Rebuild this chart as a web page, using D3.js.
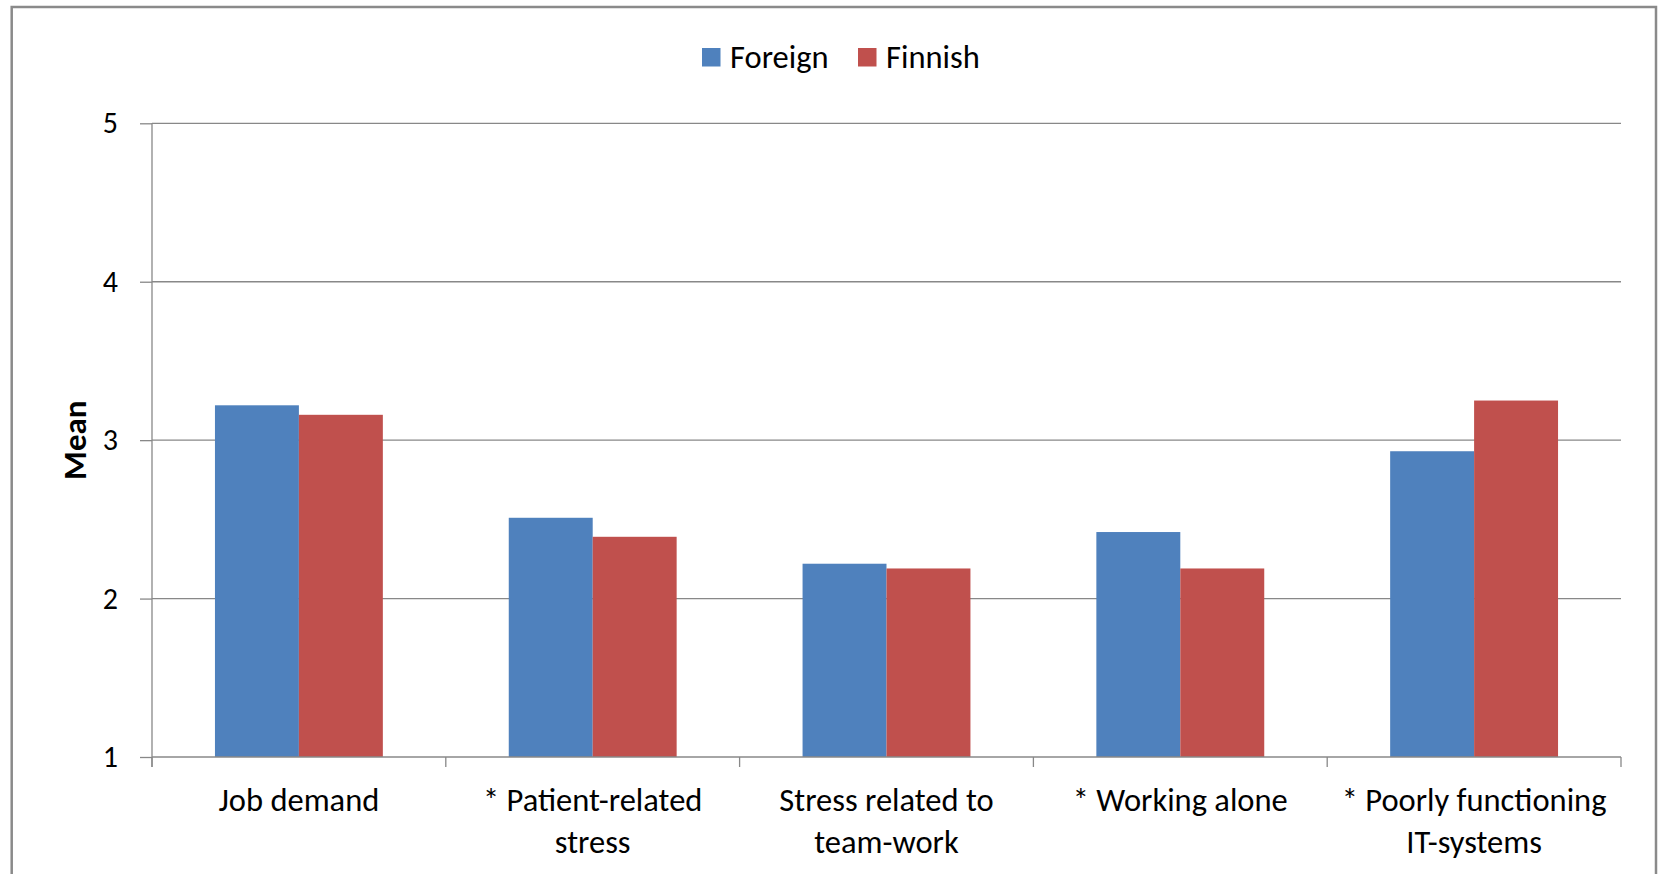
<!DOCTYPE html>
<html>
<head>
<meta charset="utf-8">
<script src="https://cdn.jsdelivr.net/npm/d3@7"></script>
<style>
  body { margin: 0; background: #fff; }
  svg { display: block; font-family: Carlito, Calibri, Lato, sans-serif; }
</style>
</head>
<body>
<svg id="chart" width="1658" height="874"></svg>
<script>
// data
const categories = ['Job demand', '* Patient-related\nstress', 'Stress related to\nteam-work', '* Working alone', '* Poorly functioning\nIT-systems'];
const series_names = ['Foreign', 'Finnish'];
const foreign_values = [3.22, 2.51, 2.22, 2.42, 2.93];
const finnish_values = [3.16, 2.39, 2.19, 2.19, 3.25];
const y_ticks = [1, 2, 3, 4, 5];

const colors = { 'Foreign': '#4f81bd', 'Finnish': '#c0504d' };
const grid_color = '#888888';
const font_size = 32.5;
const tick_font_size = 30;

// chart parameters
const plot_left = 152, plot_right = 1621, plot_top = 123.3, plot_bottom = 757;

let svg = d3.select('#chart');

let rows = categories.map((c, i) => ({ cat: c, Foreign: foreign_values[i], Finnish: finnish_values[i] }));

// outer frame
svg.append('rect')
    .attr('x', 11.7).attr('y', 7)
    .attr('width', 1644.3).attr('height', 900)
    .attr('fill', 'none')
    .attr('stroke', '#8a8a8a')
    .attr('stroke-width', 2.5);

// scales
let x0 = d3.scaleBand().domain(categories).range([plot_left, plot_right]).padding(0);
let x1 = d3.scaleBand().domain(series_names).range([0, x0.bandwidth()])
    .paddingInner(0).paddingOuter(0.75);
let y = d3.scaleLinear().domain([1, 5]).range([plot_bottom, plot_top]);

// gridlines
svg.append('g')
    .selectAll('line')
    .data(y_ticks.filter(d => d > 1))
    .enter()
    .append('line')
    .attr('x1', plot_left).attr('x2', plot_right)
    .attr('y1', d => y(d)).attr('y2', d => y(d))
    .attr('stroke', grid_color).attr('stroke-width', 1.3);

// bars
svg.append('g')
    .selectAll('g')
    .data(rows)
    .enter()
        .append('g')
        .attr('transform', d => `translate(${x0(d.cat)},0)`)
        .selectAll('rect')
        .data(d => series_names.map(s => ({ key: s, value: d[s] })))
        .enter()
            .append('rect')
            .attr('x', d => x1(d.key))
            .attr('y', d => y(d.value))
            .attr('width', x1.bandwidth())
            .attr('height', d => y(1) - y(d.value))
            .attr('fill', d => colors[d.key]);

// y axis
let y_axis = d3.axisLeft(y).tickValues(y_ticks).tickFormat(d3.format('d'))
    .tickSizeInner(12).tickSizeOuter(0).tickPadding(22);
let gy = svg.append('g')
    .attr('transform', `translate(${plot_left},0)`)
    .call(y_axis);
gy.select('.domain').attr('stroke', grid_color).attr('stroke-width', 1.3)
    .attr('d', `M0,${plot_top}V${plot_bottom + 10}`);
gy.selectAll('line').attr('stroke', grid_color).attr('stroke-width', 1.3);
gy.selectAll('text').style('font-size', tick_font_size + 'px').attr('fill', '#000')
    .style('font-family', 'Carlito, Calibri, Lato, sans-serif');

// x axis
let gx = svg.append('g').attr('transform', `translate(0,${plot_bottom})`);
gx.append('line')
    .attr('x1', plot_left).attr('x2', plot_right)
    .attr('y1', 0).attr('y2', 0)
    .attr('stroke', grid_color).attr('stroke-width', 1.3);
let tick_pos = categories.map(c => x0(c)).concat([plot_right]);
gx.selectAll('.tick')
    .data(tick_pos)
    .enter()
    .append('line')
    .attr('x1', d => d).attr('x2', d => d)
    .attr('y1', 0).attr('y2', 10)
    .attr('stroke', grid_color).attr('stroke-width', 1.3);

let labels = gx.selectAll('.lbl')
    .data(categories)
    .enter()
    .append('text')
    .attr('text-anchor', 'middle')
    .attr('x', d => x0(d) + x0.bandwidth() / 2)
    .style('font-size', font_size + 'px')
    .attr('fill', '#000');
labels.selectAll('tspan')
    .data(d => d.split('\n').map(l => ({ line: l })))
    .enter()
    .append('tspan')
    .attr('x', function() { return d3.select(this.parentNode).attr('x'); })
    .attr('y', (d, i) => 54 + i * 42)
    .text(d => d.line);

// y axis title
svg.append('text')
    .attr('transform', `translate(86,${(plot_top + plot_bottom) / 2}) rotate(-90)`)
    .attr('text-anchor', 'middle')
    .style('font-size', '33px')
    .style('font-weight', 'bold')
    .text('Mean');

// legend
const legend_x = [702, 858];
let legend = svg.append('g')
    .selectAll('g')
    .data(series_names)
    .enter()
    .append('g')
    .attr('transform', (d, i) => `translate(${legend_x[i]},48)`);
legend.append('rect')
    .attr('width', 18.5).attr('height', 18.5)
    .attr('fill', d => colors[d]);
legend.append('text')
    .attr('x', 28).attr('y', 20)
    .style('font-size', font_size + 'px')
    .text(d => d);
</script>
</body>
</html>
